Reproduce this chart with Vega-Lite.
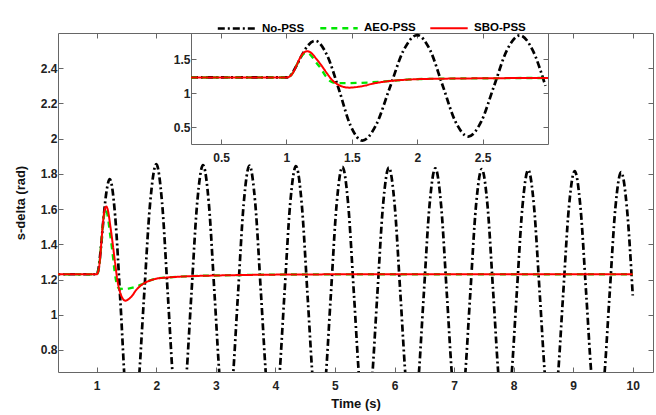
{
  "$schema": "https://vega.github.io/schema/vega-lite/v6.json",
  "autosize": {"type": "none"},
  "padding": {"left": 58, "top": 33, "right": 3, "bottom": 43},
  "width": 595,
  "height": 339,
  "background": "white",
  "config": {
    "view": {"stroke": null},
    "axis": {
      "labelFont": "Liberation Sans", "labelFontWeight": "bold", "labelFontSize": 12, "labelColor": "#222",
      "titleFont": "Liberation Sans", "titleFontWeight": "bold", "titleFontSize": 13, "titleColor": "#111",
      "domainColor": "#666", "tickColor": "#666", "tickSize": -5, "grid": false, "labelPadding": 6
    },
    "legend": {
      "labelFont": "Liberation Sans", "labelFontWeight": "bold", "labelFontSize": 11.5, "labelColor": "#000",
      "symbolType": "stroke", "symbolSize": 1400, "symbolStrokeWidth": 2.2, "columnPadding": 10, "labelOffset": 5
    }
  },
  "datasets": {
    "d": [
      {"s": "No-PSS", "t": 0.27, "v": 1.23}, {"s": "No-PSS", "t": 0.95, "v": 1.23}, {"s": "No-PSS", "t": 1.0, "v": 1.23},
      {"s": "No-PSS", "t": 1.03, "v": 1.26}, {"s": "No-PSS", "t": 1.07, "v": 1.38}, {"s": "No-PSS", "t": 1.11, "v": 1.53},
      {"s": "No-PSS", "t": 1.16, "v": 1.69}, {"s": "No-PSS", "t": 1.22, "v": 1.77}, {"s": "No-PSS", "t": 1.31, "v": 1.56},
      {"s": "No-PSS", "t": 1.4, "v": 1.06}, {"s": "No-PSS", "t": 1.49, "v": 0.52}, {"s": "No-PSS", "t": 1.58, "v": 0.3},
      {"s": "No-PSS", "t": 1.685, "v": 0.528}, {"s": "No-PSS", "t": 1.79, "v": 1.078}, {"s": "No-PSS", "t": 1.895, "v": 1.627},
      {"s": "No-PSS", "t": 2.0, "v": 1.855}, {"s": "No-PSS", "t": 2.0975, "v": 1.636}, {"s": "No-PSS", "t": 2.195, "v": 1.108},
      {"s": "No-PSS", "t": 2.2925, "v": 0.579}, {"s": "No-PSS", "t": 2.39, "v": 0.36}, {"s": "No-PSS", "t": 2.489, "v": 0.578},
      {"s": "No-PSS", "t": 2.5875, "v": 1.105}, {"s": "No-PSS", "t": 2.686, "v": 1.632}, {"s": "No-PSS", "t": 2.785, "v": 1.85},
      {"s": "No-PSS", "t": 2.8825, "v": 1.6325}, {"s": "No-PSS", "t": 2.98, "v": 1.1075}, {"s": "No-PSS", "t": 3.0775, "v": 0.5825}, {"s": "No-PSS", "t": 3.175, "v": 0.365},
      {"s": "No-PSS", "t": 3.2725, "v": 0.582}, {"s": "No-PSS", "t": 3.37, "v": 1.106}, {"s": "No-PSS", "t": 3.4675, "v": 1.63}, {"s": "No-PSS", "t": 3.565, "v": 1.847},
      {"s": "No-PSS", "t": 3.6625, "v": 1.6305}, {"s": "No-PSS", "t": 3.76, "v": 1.1085}, {"s": "No-PSS", "t": 3.8575, "v": 0.5865}, {"s": "No-PSS", "t": 3.955, "v": 0.37},
      {"s": "No-PSS", "t": 4.0525, "v": 0.586}, {"s": "No-PSS", "t": 4.15, "v": 1.107}, {"s": "No-PSS", "t": 4.2475, "v": 1.628}, {"s": "No-PSS", "t": 4.345, "v": 1.844},
      {"s": "No-PSS", "t": 4.4425, "v": 1.6285}, {"s": "No-PSS", "t": 4.54, "v": 1.1095}, {"s": "No-PSS", "t": 4.6375, "v": 0.5905}, {"s": "No-PSS", "t": 4.735, "v": 0.375},
      {"s": "No-PSS", "t": 4.8325, "v": 0.5895}, {"s": "No-PSS", "t": 4.93, "v": 1.1075}, {"s": "No-PSS", "t": 5.0275, "v": 1.6255}, {"s": "No-PSS", "t": 5.125, "v": 1.84},
      {"s": "No-PSS", "t": 5.2225, "v": 1.626}, {"s": "No-PSS", "t": 5.32, "v": 1.11}, {"s": "No-PSS", "t": 5.4175, "v": 0.594}, {"s": "No-PSS", "t": 5.515, "v": 0.38},
      {"s": "No-PSS", "t": 5.6125, "v": 0.593}, {"s": "No-PSS", "t": 5.71, "v": 1.108}, {"s": "No-PSS", "t": 5.8075, "v": 1.623}, {"s": "No-PSS", "t": 5.905, "v": 1.836},
      {"s": "No-PSS", "t": 6.0025, "v": 1.6235}, {"s": "No-PSS", "t": 6.1, "v": 1.1105}, {"s": "No-PSS", "t": 6.1975, "v": 0.5975}, {"s": "No-PSS", "t": 6.295, "v": 0.385},
      {"s": "No-PSS", "t": 6.3925, "v": 0.5965}, {"s": "No-PSS", "t": 6.49, "v": 1.1085}, {"s": "No-PSS", "t": 6.5875, "v": 1.6205}, {"s": "No-PSS", "t": 6.685, "v": 1.832},
      {"s": "No-PSS", "t": 6.7825, "v": 1.621}, {"s": "No-PSS", "t": 6.88, "v": 1.111}, {"s": "No-PSS", "t": 6.9775, "v": 0.601}, {"s": "No-PSS", "t": 7.075, "v": 0.39},
      {"s": "No-PSS", "t": 7.1725, "v": 0.6005}, {"s": "No-PSS", "t": 7.27, "v": 1.1085}, {"s": "No-PSS", "t": 7.3675, "v": 1.6165}, {"s": "No-PSS", "t": 7.465, "v": 1.827},
      {"s": "No-PSS", "t": 7.5625, "v": 1.617}, {"s": "No-PSS", "t": 7.66, "v": 1.111}, {"s": "No-PSS", "t": 7.7575, "v": 0.605}, {"s": "No-PSS", "t": 7.855, "v": 0.395},
      {"s": "No-PSS", "t": 7.9525, "v": 0.604}, {"s": "No-PSS", "t": 8.05, "v": 1.1085}, {"s": "No-PSS", "t": 8.1475, "v": 1.613}, {"s": "No-PSS", "t": 8.245, "v": 1.822},
      {"s": "No-PSS", "t": 8.3425, "v": 1.614}, {"s": "No-PSS", "t": 8.44, "v": 1.111}, {"s": "No-PSS", "t": 8.5375, "v": 0.608}, {"s": "No-PSS", "t": 8.635, "v": 0.4},
      {"s": "No-PSS", "t": 8.7325, "v": 0.6074}, {"s": "No-PSS", "t": 8.83, "v": 1.108}, {"s": "No-PSS", "t": 8.9275, "v": 1.6086}, {"s": "No-PSS", "t": 9.025, "v": 1.816},
      {"s": "No-PSS", "t": 9.1225, "v": 1.6094}, {"s": "No-PSS", "t": 9.22, "v": 1.1105}, {"s": "No-PSS", "t": 9.3175, "v": 0.6116}, {"s": "No-PSS", "t": 9.415, "v": 0.405},
      {"s": "No-PSS", "t": 9.5125, "v": 0.6108}, {"s": "No-PSS", "t": 9.61, "v": 1.1075}, {"s": "No-PSS", "t": 9.7075, "v": 1.6042}, {"s": "No-PSS", "t": 9.805, "v": 1.81},
      {"s": "No-PSS", "t": 9.9025, "v": 1.604}, {"s": "No-PSS", "t": 10.0, "v": 1.11},

      {"s": "AEO-PSS", "t": 0.27, "v": 1.23}, {"s": "AEO-PSS", "t": 1.0, "v": 1.23}, {"s": "AEO-PSS", "t": 1.02, "v": 1.24},
      {"s": "AEO-PSS", "t": 1.05, "v": 1.3}, {"s": "AEO-PSS", "t": 1.08, "v": 1.42}, {"s": "AEO-PSS", "t": 1.11, "v": 1.53},
      {"s": "AEO-PSS", "t": 1.135, "v": 1.585}, {"s": "AEO-PSS", "t": 1.155, "v": 1.595}, {"s": "AEO-PSS", "t": 1.18, "v": 1.57},
      {"s": "AEO-PSS", "t": 1.22, "v": 1.47}, {"s": "AEO-PSS", "t": 1.26, "v": 1.37}, {"s": "AEO-PSS", "t": 1.3, "v": 1.25},
      {"s": "AEO-PSS", "t": 1.34, "v": 1.17}, {"s": "AEO-PSS", "t": 1.38, "v": 1.148}, {"s": "AEO-PSS", "t": 1.45, "v": 1.147},
      {"s": "AEO-PSS", "t": 1.55, "v": 1.15}, {"s": "AEO-PSS", "t": 1.65, "v": 1.158}, {"s": "AEO-PSS", "t": 1.75, "v": 1.172},
      {"s": "AEO-PSS", "t": 1.8, "v": 1.18}, {"s": "AEO-PSS", "t": 1.9, "v": 1.195}, {"s": "AEO-PSS", "t": 2.0, "v": 1.205},
      {"s": "AEO-PSS", "t": 2.2, "v": 1.212}, {"s": "AEO-PSS", "t": 2.5, "v": 1.218}, {"s": "AEO-PSS", "t": 3.0, "v": 1.223},
      {"s": "AEO-PSS", "t": 3.5, "v": 1.226}, {"s": "AEO-PSS", "t": 4.5, "v": 1.229}, {"s": "AEO-PSS", "t": 6.0, "v": 1.23},
      {"s": "AEO-PSS", "t": 10.0, "v": 1.23},

      {"s": "SBO-PSS", "t": 0.27, "v": 1.23}, {"s": "SBO-PSS", "t": 1.0, "v": 1.23}, {"s": "SBO-PSS", "t": 1.02, "v": 1.24},
      {"s": "SBO-PSS", "t": 1.05, "v": 1.3}, {"s": "SBO-PSS", "t": 1.08, "v": 1.42}, {"s": "SBO-PSS", "t": 1.11, "v": 1.54},
      {"s": "SBO-PSS", "t": 1.135, "v": 1.6}, {"s": "SBO-PSS", "t": 1.16, "v": 1.615}, {"s": "SBO-PSS", "t": 1.19, "v": 1.59},
      {"s": "SBO-PSS", "t": 1.23, "v": 1.5}, {"s": "SBO-PSS", "t": 1.27, "v": 1.4}, {"s": "SBO-PSS", "t": 1.31, "v": 1.29},
      {"s": "SBO-PSS", "t": 1.35, "v": 1.19}, {"s": "SBO-PSS", "t": 1.39, "v": 1.13}, {"s": "SBO-PSS", "t": 1.43, "v": 1.095},
      {"s": "SBO-PSS", "t": 1.48, "v": 1.08}, {"s": "SBO-PSS", "t": 1.54, "v": 1.09}, {"s": "SBO-PSS", "t": 1.6, "v": 1.11},
      {"s": "SBO-PSS", "t": 1.65, "v": 1.135}, {"s": "SBO-PSS", "t": 1.72, "v": 1.16}, {"s": "SBO-PSS", "t": 1.8, "v": 1.18},
      {"s": "SBO-PSS", "t": 1.9, "v": 1.195}, {"s": "SBO-PSS", "t": 2.0, "v": 1.205}, {"s": "SBO-PSS", "t": 2.2, "v": 1.212},
      {"s": "SBO-PSS", "t": 2.5, "v": 1.218}, {"s": "SBO-PSS", "t": 3.0, "v": 1.223}, {"s": "SBO-PSS", "t": 3.5, "v": 1.226},
      {"s": "SBO-PSS", "t": 4.5, "v": 1.229}, {"s": "SBO-PSS", "t": 6.0, "v": 1.23}, {"s": "SBO-PSS", "t": 10.0, "v": 1.23}
    ]
  },
  "layer": [
    {
      "data": {"name": "d"},
      "mark": {"type": "line", "clip": true, "interpolate": "monotone"},
      "encoding": {
        "x": {"field": "t", "type": "quantitative",
              "scale": {"domain": [0.35, 10.34], "nice": false, "zero": false},
              "axis": {"orient": "bottom", "values": [1, 2, 3, 4, 5, 6, 7, 8, 9, 10], "format": "d", "title": "Time (s)", "labelPadding": 13, "titlePadding": 6}},
        "y": {"field": "v", "type": "quantitative",
              "scale": {"domain": [0.675, 2.6], "nice": false, "zero": false},
              "axis": {"orient": "left", "values": [0.8, 1, 1.2, 1.4, 1.6, 1.8, 2, 2.2, 2.4], "format": "~g", "title": "s-delta (rad)", "titlePadding": 13}},
        "color": {"field": "s", "type": "nominal",
                  "scale": {"domain": ["No-PSS", "AEO-PSS", "SBO-PSS"], "range": ["#000000", "#00e600", "#ff0000"]},
                  "legend": {"orient": "none", "legendX": 158, "legendY": -25, "direction": "horizontal", "title": null}},
        "strokeDash": {"field": "s", "type": "nominal",
                       "scale": {"domain": ["No-PSS", "AEO-PSS", "SBO-PSS"], "range": [[7, 3, 2, 3], [6, 5], [1, 0]]},
                       "legend": {"orient": "none", "legendX": 158, "legendY": -25, "direction": "horizontal", "title": null}},
        "strokeWidth": {"field": "s", "type": "nominal",
                        "scale": {"domain": ["No-PSS", "AEO-PSS", "SBO-PSS"], "range": [2.7, 2, 2]},
                        "legend": {"orient": "none", "legendX": 158, "legendY": -25, "direction": "horizontal", "title": null}}
      }
    },
    {
      "data": {"name": "d"},
      "mark": {"type": "line", "opacity": 0},
      "encoding": {
        "x": {"field": "t", "type": "quantitative",
              "scale": {"domain": [0.35, 10.34], "nice": false, "zero": false},
              "axis": {"orient": "top", "values": [1, 2, 9, 10], "labels": false, "title": null}},
        "y": {"field": "v", "type": "quantitative",
              "scale": {"domain": [0.675, 2.6], "nice": false, "zero": false},
              "axis": {"orient": "right", "values": [0.8, 1, 1.2, 1.4, 1.6, 1.8, 2, 2.2, 2.4], "labels": false, "title": null}}
      }
    },
    {
      "data": {"name": "d"},
      "transform": [{"filter": "datum.t <= 3.0"}],
      "mark": {"type": "line", "interpolate": "monotone"},
      "encoding": {
        "x": {"field": "t", "type": "quantitative",
              "scale": {"domain": [0.27, 3.0], "nice": false, "zero": false, "range": [133, 490]},
              "axis": {"orient": "bottom", "offset": -228, "values": [0.5, 1, 1.5, 2, 2.5], "format": "~g", "title": null, "labelPadding": 13}},
        "y": {"field": "v", "type": "quantitative",
              "scale": {"domain": [0.25, 1.885], "nice": false, "zero": false, "range": [111, 0]},
              "axis": {"orient": "left", "offset": -133, "values": [0.5, 1, 1.5], "format": "~g", "title": null}},
        "color": {"field": "s", "type": "nominal"},
        "strokeDash": {"field": "s", "type": "nominal"},
        "strokeWidth": {"field": "s", "type": "nominal"}
      }
    },
    {
      "data": {"name": "d"},
      "transform": [{"filter": "datum.t <= 3.0"}],
      "mark": {"type": "line", "opacity": 0},
      "encoding": {
        "x": {"field": "t", "type": "quantitative",
              "scale": {"domain": [0.27, 3.0], "nice": false, "zero": false, "range": [133, 490]},
              "axis": {"orient": "top", "values": [0.5, 1, 1.5, 2, 2.5], "labels": false, "title": null}},
        "y": {"field": "v", "type": "quantitative",
              "scale": {"domain": [0.25, 1.885], "nice": false, "zero": false, "range": [111, 0]},
              "axis": {"orient": "right", "offset": -105, "values": [0.5, 1, 1.5], "labels": false, "title": null}}
      }
    }
  ],
  "resolve": {
    "scale": {"x": "independent", "y": "independent"},
    "axis": {"x": "independent", "y": "independent"}
  }
}
